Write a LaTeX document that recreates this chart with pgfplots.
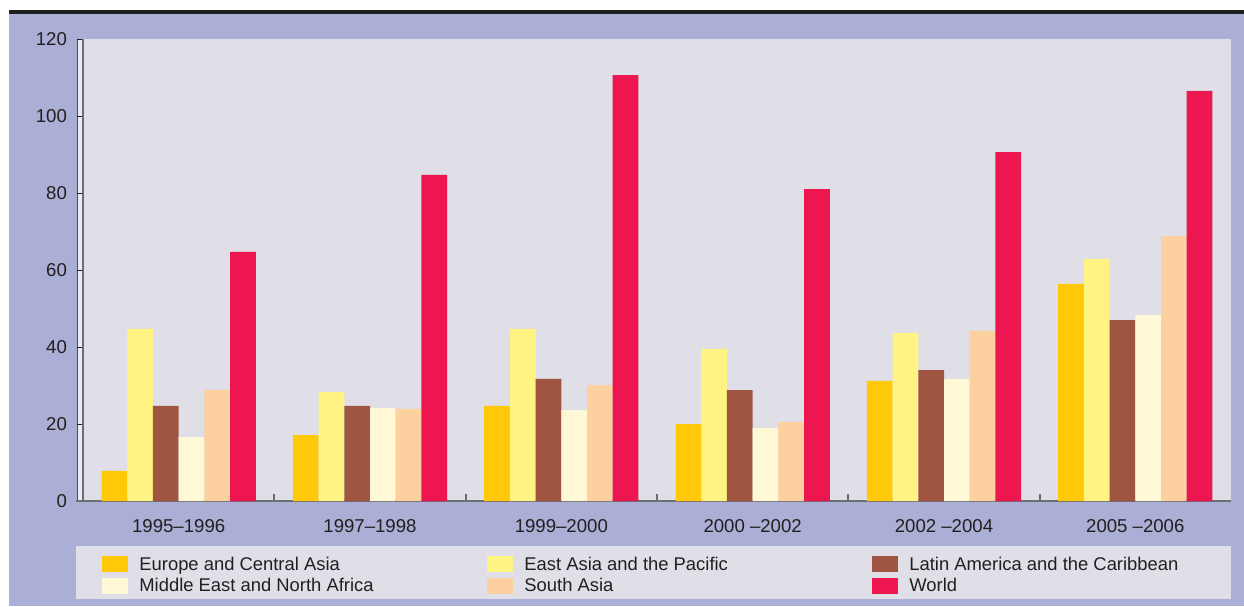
\documentclass[border=0pt]{standalone}
\usepackage{fontspec}
\setmainfont{Liberation Sans}
\usepackage{pgfplots}
\usepackage{pgfplotstable}
\pgfplotsset{compat=1.18}
\definecolor{lav}{HTML}{ABAED5}
\definecolor{plotbg}{HTML}{E0DEE6}
\definecolor{cEur}{HTML}{FFC90A}
\definecolor{cEA}{HTML}{FFF383}
\definecolor{cLA}{HTML}{A05542}
\definecolor{cME}{HTML}{FFF8D6}
\definecolor{cSA}{HTML}{FDD19F}
\definecolor{cW}{HTML}{EE1651}
\definecolor{txt}{HTML}{231F20}
\definecolor{axgray}{HTML}{6D6E71}

% x = period index, one column per region
\pgfplotstableread{
x eur  ea   la   me   sa   w
0 7.8  44.7 24.7 16.6 28.8 64.7
1 17.1 28.3 24.7 24.2 23.9 84.7
2 24.7 44.7 31.7 23.6 30.1 110.6
3 20.0 39.5 28.8 19.0 20.5 81.0
4 31.2 43.6 34.0 31.7 44.2 90.6
5 56.4 62.9 47.0 48.3 68.8 106.5
}\data

\newcommand{\legtxt}[1]{\makebox[165pt][l]{\rule[-3.2pt]{0pt}{10.5pt}#1}}

\begin{document}
\begin{tikzpicture}[x=1pt,y=1pt]
\useasboundingbox (0,0) rectangle (622,303);
\fill[lav] (4.5,0) rectangle (622,296);
\fill[black!88] (4.5,296) rectangle (622,298);
\fill[plotbg] (38,3.5) rectangle (615.5,30);
\fill[plotbg!60!white] (38.5,52.5) rectangle (41.5,283.5);
\draw[axgray!70!black, line width=0.4pt] (38.5,52.5) -- (38.5,283.5) -- (41.5,283.5);
\begin{axis}[
  at={(41.5pt,52.5pt)}, anchor=south west,
  scale only axis, width=574pt, height=231pt,
  axis background/.style={fill=plotbg},
  xmin=-0.5, xmax=5.5, ymin=0, ymax=120,
  axis x line*=bottom, axis y line*=left,
  axis line style={axgray, line width=1pt},
  ytick={0,20,...,120},
  ytick align=outside,
  y tick style={txt, line width=0.5pt},
  major tick length=3pt,
  /pgf/number format/assume math mode=true,
  xtick={0,...,5},
  xticklabels={1995--1996, 1997--1998, 1999--2000, 2000 --2002, 2002 --2004, 2005 --2006},
  x tick style={draw=none},
  extra x ticks={0.5,1.5,2.5,3.5,4.5},
  extra x tick labels={},
  extra x tick style={xtick align=inside, x tick style={draw=axgray, line width=1pt}, major tick length=3.5pt},
  tick label style={font=\fontsize{9.3}{10}\selectfont, text=txt},
  xticklabel style={yshift=-2.5pt},
  yticklabel style={xshift=-1.5pt},
  ybar=0pt, bar width=12.85pt,
  legend columns=3,
  legend cell align=left,
  legend image code/.code={\fill[#1] (0pt,-4pt) rectangle (13pt,4pt);},
  legend style={at={(axis description cs:0.01655,-0.1169)}, anchor=north west,
    draw=none, fill=none, inner sep=0pt, row sep=2pt,
    nodes={inner sep=0pt, font=\fontsize{9.2}{10}\selectfont, text=txt},
    /tikz/every odd column/.append style={column sep=5.5pt},
    /tikz/every even column/.append style={column sep=9pt}},
]
\addplot[fill=cEur, draw=none] table[x=x, y=eur] {\data};
\addplot[fill=cEA,  draw=none] table[x=x, y=ea]  {\data};
\addplot[fill=cLA,  draw=none] table[x=x, y=la]  {\data};
\addplot[fill=cME,  draw=none] table[x=x, y=me]  {\data};
\addplot[fill=cSA,  draw=none] table[x=x, y=sa]  {\data};
\addplot[fill=cW,   draw=none] table[x=x, y=w]   {\data};
\legend{\legtxt{Europe and Central Asia}, \legtxt{East Asia and the Pacific}, \legtxt{Latin America and the Caribbean}, \legtxt{Middle East and North Africa}, \legtxt{South Asia}, \legtxt{World}}
\end{axis}
\draw[axgray, line width=1pt] (38,52.5) -- (41.5,52.5);
\end{tikzpicture}
\end{document}
